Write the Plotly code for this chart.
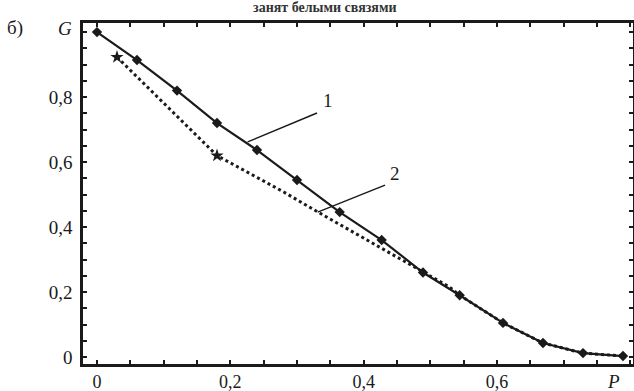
import plotly.graph_objects as go

# Curve 1 (solid, diamond markers)
p1 = [0.0, 0.06, 0.12, 0.18, 0.24, 0.30, 0.364, 0.427, 0.489, 0.544, 0.609, 0.669, 0.729, 0.789]
g1 = [1.0, 0.914, 0.82, 0.72, 0.637, 0.545, 0.446, 0.36, 0.26, 0.19, 0.105, 0.043, 0.012, 0.003]

# Curve 2 (dotted)
p2 = [0.03, 0.18, 0.28, 0.334, 0.424, 0.484, 0.529, 0.544, 0.609, 0.669, 0.729, 0.789]
g2 = [0.923, 0.62, 0.508, 0.443, 0.338, 0.268, 0.215, 0.19, 0.105, 0.043, 0.012, 0.003]
# Curve 2 star markers
p2m = [0.03, 0.18]
g2m = [0.923, 0.62]

x_ticks = [0, 0.2, 0.4, 0.6]
x_labels = ["0", "0,2", "0,4", "0,6"]
y_ticks = [0, 0.2, 0.4, 0.6, 0.8]
y_labels = ["0", "0,2", "0,4", "0,6", "0,8"]

ink = "#1a1a1a"
font = dict(family="Liberation Serif", size=19, color=ink)
xfont = dict(family="Liberation Serif", size=18, color=ink)

fig = go.Figure()
fig.add_trace(go.Scatter(x=p2, y=g2, mode="lines",
                         line=dict(color=ink, width=3, dash="dot"), showlegend=False))
fig.add_trace(go.Scatter(x=p2m, y=g2m, mode="markers",
                         marker=dict(symbol="star", size=10, color=ink), showlegend=False))
fig.add_trace(go.Scatter(x=p1, y=g1, mode="lines+markers",
                         line=dict(color=ink, width=2.2),
                         marker=dict(symbol="diamond", size=8, color=ink), showlegend=False))

axis_common = dict(showgrid=False, zeroline=False, showline=True, linecolor=ink, linewidth=2.5,
                   mirror="allticks", ticks="inside", ticklen=4, tickwidth=2, tickcolor=ink,
                   automargin=False,
                   minor=dict(ticks="inside", ticklen=4, tickwidth=2, tickcolor=ink))

fig.update_xaxes(range=[-0.021, 0.804], tickvals=x_ticks, ticktext=x_labels, tickfont=xfont,
                 minor_dtick=0.05, ticklabelstandoff=0, **axis_common)
fig.update_yaxes(range=[-0.0215, 1.028], tickvals=y_ticks, ticktext=y_labels, tickfont=font,
                 minor_dtick=0.05, ticklabelstandoff=4, **axis_common)

# leader lines
fig.add_shape(type="line", x0=0.226, y0=0.662, x1=0.330, y1=0.751, line=dict(color=ink, width=1.5))
fig.add_shape(type="line", x0=0.331, y0=0.446, x1=0.432, y1=0.529, line=dict(color=ink, width=1.5))

annos = [
    dict(x=0.346, y=0.79, xref="x", yref="y", text="1"),
    dict(x=0.447, y=0.566, xref="x", yref="y", text="2"),
    dict(x=-0.033, y=0.985, xref="paper", yref="paper", text="<i>G</i>"),
    dict(x=0.964, y=-0.05, xref="paper", yref="paper", text="<i>P</i>"),
    dict(x=-0.124, y=0.985, xref="paper", yref="paper", text="б)"),
]
for a in annos:
    fig.add_annotation(showarrow=False, font=font, xanchor="center", yanchor="middle", **a)

fig.add_annotation(x=(325 - 83) / 550, y=1.044, xref="paper", yref="paper",
                   text="<b>занят белыми связями</b>", showarrow=False,
                   font=dict(family="Liberation Serif", size=14, color="#333"),
                   xanchor="center", yanchor="middle")

fig.update_layout(width=634, height=391, margin=dict(l=83, r=1, t=23, b=27),
                  plot_bgcolor="white", paper_bgcolor="white", separators=",.")

fig.write_html("out.html", config={"displayModeBar": False},
               post_script="document.body.style.margin='0';document.body.style.overflow='hidden';")
